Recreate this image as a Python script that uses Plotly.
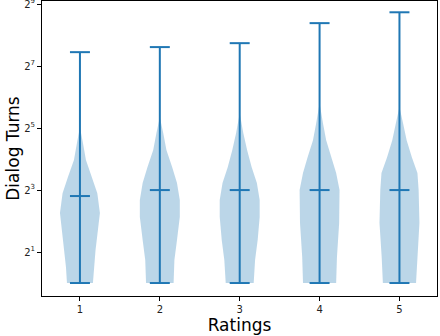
import plotly.graph_objects as go

ratings = [1, 2, 3, 4, 5]
turn_min = [1, 1, 1, 1, 1]
turn_max = [175, 196, 214, 335, 427]
turn_median = [7, 8, 8, 8, 8]

# violin outlines: log2(turns) and relative half width
v1_log2 = [0, 0.52, 1.06, 1.71, 2.26, 2.9, 3.42, 3.97, 4.52, 5.03]
v1_width = [0.65, 0.7, 0.78, 0.9, 1.0, 0.87, 0.6, 0.3, 0.15, 0.0]
v2_log2 = [0, 0.74, 1.39, 2.13, 2.68, 3.23, 3.74, 4.29, 4.84, 5.35]
v2_width = [0.69, 0.73, 0.86, 1.0, 1.0, 0.86, 0.62, 0.33, 0.17, 0.0]
v3_log2 = [0, 0.74, 1.39, 2.13, 2.68, 3.23, 3.74, 4.29, 4.84, 5.48]
v3_width = [0.7, 0.77, 0.9, 1.0, 1.0, 0.86, 0.6, 0.37, 0.18, 0.0]
v4_log2 = [0, 0.84, 1.94, 3.0, 3.55, 4.06, 4.61, 5.16, 5.8]
v4_width = [0.83, 0.87, 0.98, 1.0, 0.83, 0.6, 0.33, 0.17, 0.0]
v5_log2 = [0, 0.84, 1.94, 3.0, 3.55, 4.06, 4.61, 5.16, 5.68]
v5_width = [0.83, 0.89, 1.0, 0.96, 0.9, 0.62, 0.36, 0.18, 0.0]

outlines = [(v1_log2, v1_width), (v2_log2, v2_width), (v3_log2, v3_width),
            (v4_log2, v4_width), (v5_log2, v5_width)]

y_tickvals = [2, 8, 32, 128, 512]
y_ticktext = ["2<sup>1</sup>", "2<sup>3</sup>", "2<sup>5</sup>", "2<sup>7</sup>", "2<sup>9</sup>"]

blue = "#1f77b4"
half = 0.25  # violin half width (matplotlib default width 0.5)
cap = 0.125

fig = go.Figure()

# Violin bodies
for r, (lv, wd) in zip(ratings, outlines):
    ys = [2 ** l for l in lv]
    xs = [r + w * half for w in wd] + [r - w * half for w in reversed(wd)]
    fig.add_trace(go.Scatter(
        x=xs, y=ys + ys[::-1],
        mode="lines", fill="toself",
        fillcolor="rgba(31,119,180,0.3)",
        line=dict(width=0), hoverinfo="skip", showlegend=False
    ))

# Whiskers, caps and medians
lx, ly = [], []
for r, lo, hi, med in zip(ratings, turn_min, turn_max, turn_median):
    lx += [r, r, None]
    ly += [lo, hi, None]
    for v in (lo, hi, med):
        lx += [r - cap, r + cap, None]
        ly += [v, v, None]

fig.add_trace(go.Scatter(
    x=lx, y=ly, mode="lines",
    line=dict(color=blue, width=2),
    hoverinfo="skip", showlegend=False
))

axis_common = dict(
    showline=True, linecolor="black", linewidth=1, mirror=True,
    ticks="outside", ticklen=4, tickcolor="black",
    showgrid=False, zeroline=False, automargin=False,
    ticklabeloverflow="allow",
    tickfont=dict(family="DejaVu Sans", size=10, color="#222"),
)

fig.update_layout(
    width=440, height=336,
    margin=dict(l=42, r=3, t=1, b=40),
    plot_bgcolor="white", paper_bgcolor="white",
    font=dict(family="DejaVu Sans", color="black"),
    xaxis=dict(
        range=[0.525, 5.47], tickvals=ratings,
        title=dict(text="Ratings", font=dict(size=17), standoff=0),
        **axis_common
    ),
    yaxis=dict(
        type="log", range=[-0.126, 2.74],
        tickvals=y_tickvals, ticktext=y_ticktext,
        title=dict(text="Dialog Turns", font=dict(size=17), standoff=0),
        **axis_common
    ),
)

# drop the default page margin so the figure sits at the window's corner
fig.write_html("out.html", config={"displayModeBar": False},
               post_script="document.body.style.margin='0';")
